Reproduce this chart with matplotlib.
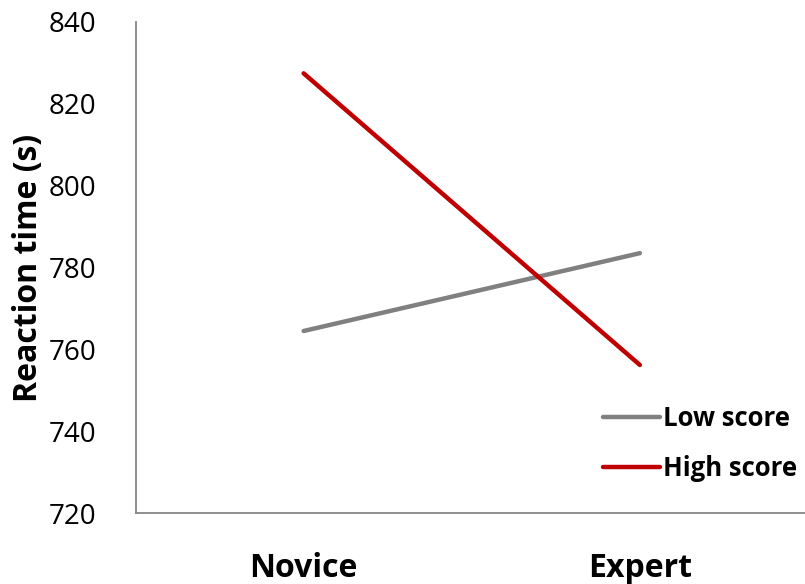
import matplotlib
matplotlib.use("Agg")
import matplotlib.pyplot as plt

plt.rcParams['font.family'] = ['Open Sans', 'DejaVu Sans']

groups = ["Novice", "Expert"]
low_score = [764.5, 783.5]
high_score = [827.4, 756.2]
y_ticks = [720, 740, 760, 780, 800, 820, 840]

fig = plt.figure(figsize=(8.05, 5.84), dpi=100)
ax = fig.add_axes([135.5 / 805, 70.7 / 584, (808 - 135.5) / 805, 491.6 / 584])

x = list(range(len(groups)))
ax.plot(x, low_score, color="#808080", lw=3.2, solid_capstyle="round", label="Low score")
ax.plot(x, high_score, color="#C00000", lw=3.2, solid_capstyle="round", label="High score")

ax.set_xlim(-0.5, 1.5)
ax.set_ylim(720, 840)
ax.set_yticks(y_ticks)
ax.set_yticklabels([str(v) for v in y_ticks], fontsize=20)
ax.set_xticks(x)
ax.set_xticklabels(groups, fontsize=23, fontweight="bold")
ax.tick_params(axis="y", length=0, pad=28)
ax.tick_params(axis="x", length=0, pad=28)

for side in ("top", "right"):
    ax.spines[side].set_visible(False)
for side in ("left", "bottom"):
    ax.spines[side].set_color("#868686")
    ax.spines[side].set_linewidth(1.3)

ax.set_ylabel("Reaction time (s)", fontsize=23, fontweight="bold", labelpad=3)

leg = ax.legend(loc="center left", bbox_to_anchor=(603 / 805, 1 - 443.5 / 584),
                bbox_transform=fig.transFigure, frameon=False,
                prop={"size": 18.5, "weight": "bold"}, handlelength=2.2,
                handletextpad=0.12, labelspacing=0.92, borderaxespad=0,
                borderpad=0)

fig.savefig("out.png", dpi=100)
